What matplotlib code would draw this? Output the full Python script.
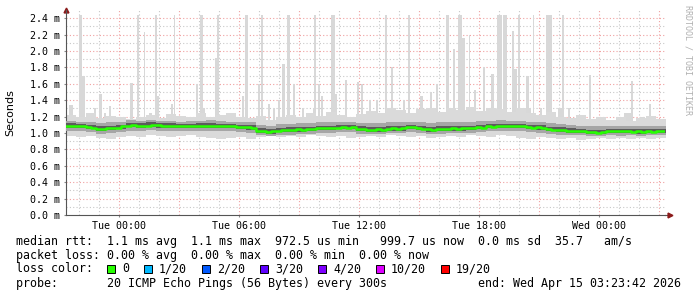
import numpy as np
import matplotlib
matplotlib.use("Agg")
import matplotlib.pyplot as plt
from matplotlib.patches import Rectangle

# ---- data (hours relative to Tue 00:00) ----
t_start = -2.65
t_end = 27.3

# median rtt (ms), one value per 15 min
median = [1.09, 1.09, 1.08, 1.08, 1.075, 1.06, 1.05, 1.05, 1.06, 1.06,
          1.06, 1.08, 1.09, 1.10, 1.09, 1.09, 1.09, 1.10, 1.10, 1.09,
          1.09, 1.09, 1.085, 1.08, 1.085, 1.08, 1.09, 1.09, 1.085, 1.09,
          1.085, 1.085, 1.08, 1.085, 1.075, 1.07, 1.07, 1.06, 1.03, 1.02,
          1.01, 1.02, 1.03, 1.04, 1.04, 1.035, 1.045, 1.04, 1.05, 1.045,
          1.06, 1.055, 1.06, 1.06, 1.065, 1.07, 1.065, 1.07, 1.05, 1.045,
          1.04, 1.035, 1.045, 1.04, 1.05, 1.055, 1.05, 1.055, 1.07, 1.07,
          1.065, 1.05, 1.045, 1.04, 1.045, 1.05, 1.05, 1.055, 1.05, 1.055,
          1.065, 1.06, 1.07, 1.065, 1.08, 1.075, 1.08, 1.08, 1.085, 1.08,
          1.09, 1.08, 1.07, 1.065, 1.07, 1.06, 1.045, 1.04, 1.035, 1.04,
          1.03, 1.02, 1.025, 1.02, 1.01, 1.01, 1.005, 1.015, 1.02, 1.02,
          1.025, 1.02, 1.02, 1.015, 1.02, 1.01, 1.02, 1.015, 1.02, 1.025]

# smoke envelope, one value per 30 min
s_max = [1.22, 1.20, 1.24, 1.18, 1.21, 1.19, 1.17, 1.20, 1.22, 1.18,
         1.23, 1.21, 1.19, 1.24, 1.20, 1.22, 1.25, 1.19, 1.18, 1.21,
         1.16, 1.19, 1.22, 1.20, 1.24, 1.21, 1.26, 1.22, 1.20, 1.23,
         1.27, 1.25, 1.30, 1.28, 1.24, 1.29, 1.31, 1.26, 1.30, 1.28,
         1.32, 1.27, 1.30, 1.29, 1.26, 1.31, 1.24, 1.22, 1.26, 1.20,
         1.18, 1.22, 1.17, 1.19, 1.16, 1.20, 1.15, 1.18, 1.21, 1.17]
s_p90 = [1.15, 1.14, 1.13, 1.12, 1.13, 1.14, 1.16, 1.15, 1.16, 1.15,
         1.15, 1.14, 1.15, 1.15, 1.16, 1.15, 1.14, 1.14, 1.13, 1.10,
         1.09, 1.11, 1.11, 1.12, 1.12, 1.13, 1.13, 1.14, 1.14, 1.12,
         1.12, 1.12, 1.13, 1.13, 1.14, 1.13, 1.12, 1.13, 1.13, 1.13,
         1.14, 1.15, 1.15, 1.16, 1.15, 1.15, 1.14, 1.13, 1.12, 1.11,
         1.10, 1.09, 1.08, 1.08, 1.09, 1.09, 1.09, 1.08, 1.09, 1.09]
s_p75 = [1.12, 1.11, 1.10, 1.08, 1.09, 1.10, 1.12, 1.12, 1.13, 1.12,
         1.12, 1.11, 1.115, 1.12, 1.12, 1.115, 1.11, 1.10, 1.095, 1.055,
         1.045, 1.065, 1.07, 1.07, 1.075, 1.09, 1.09, 1.10, 1.10, 1.08,
         1.07, 1.07, 1.08, 1.08, 1.10, 1.09, 1.07, 1.08, 1.08, 1.08,
         1.09, 1.10, 1.11, 1.11, 1.11, 1.115, 1.10, 1.095, 1.075, 1.07,
         1.055, 1.05, 1.04, 1.04, 1.05, 1.05, 1.05, 1.045, 1.05, 1.05]
s_p25 = [1.065, 1.055, 1.045, 1.025, 1.035, 1.045, 1.07, 1.065, 1.075, 1.065,
         1.065, 1.055, 1.06, 1.065, 1.065, 1.06, 1.055, 1.045, 1.04, 1.0,
         0.99, 1.01, 1.015, 1.015, 1.02, 1.035, 1.035, 1.045, 1.045, 1.025,
         1.015, 1.015, 1.025, 1.025, 1.045, 1.035, 1.015, 1.025, 1.025, 1.025,
         1.035, 1.045, 1.055, 1.055, 1.055, 1.06, 1.045, 1.04, 1.02, 1.015,
         1.0, 0.995, 0.985, 0.985, 0.995, 0.995, 0.995, 0.99, 0.995, 0.995]
s_p10 = [1.03, 1.02, 1.01, 0.99, 1.00, 1.01, 1.03, 1.03, 1.04, 1.03,
         1.03, 1.02, 1.03, 1.03, 1.03, 1.02, 1.02, 1.01, 1.00, 0.97,
         0.96, 0.98, 0.98, 0.99, 0.99, 1.00, 1.00, 1.01, 1.01, 0.99,
         0.99, 0.99, 1.00, 1.00, 1.01, 1.00, 0.99, 0.99, 1.00, 1.00,
         1.00, 1.01, 1.02, 1.02, 1.02, 1.02, 1.01, 1.00, 0.99, 0.98,
         0.97, 0.97, 0.96, 0.96, 0.97, 0.96, 0.97, 0.96, 0.97, 0.97]
s_min = [0.96, 0.95, 0.96, 0.94, 0.93, 0.95, 0.96, 0.95, 0.97, 0.96,
         0.95, 0.96, 0.97, 0.95, 0.94, 0.93, 0.94, 0.95, 0.93, 0.95,
         0.96, 0.95, 0.96, 0.95, 0.97, 0.96, 0.95, 0.96, 0.94, 0.95,
         0.96, 0.95, 0.97, 0.96, 0.95, 0.96, 0.94, 0.95, 0.96, 0.95,
         0.97, 0.96, 0.95, 0.97, 0.96, 0.94, 0.93, 0.95, 0.94, 0.93,
         0.94, 0.92, 0.93, 0.94, 0.93, 0.94, 0.93, 0.94, 0.93, 0.94]

# outlier spikes: time (h), top (ms), duration (h)
spike_t = [-2.40, -1.95, -1.80, -1.20, -0.95, -0.70, -0.45, 0.60, 0.95, 1.25,
           1.55, 1.85, 1.95, 2.65, 2.75, 3.90, 4.10, 4.25, 4.85, 4.95,
           6.20, 6.35, 7.00, 7.15, 7.50, 7.75, 8.00, 8.20, 8.45, 8.75,
           9.20, 9.75, 9.80, 10.00, 10.15, 10.70, 10.85, 11.35, 11.95, 12.15,
           12.55, 12.90, 13.35, 13.65, 14.25, 14.50, 15.10, 15.60, 15.90, 16.40,
           16.75, 17.05, 17.20, 17.50, 17.80, 18.25, 18.65, 19.00, 19.30, 19.70,
           19.80, 20.00, 20.40, 20.50, 20.70, 21.10, 21.50, 22.05, 22.20, 22.50,
           23.55, 25.45, 25.65, 26.15, 26.55]
spike_top = [1.34, 2.44, 1.69, 1.30, 1.47, 1.25, 1.33, 1.61, 2.44, 2.23,
             1.25, 2.44, 1.45, 1.35, 2.44, 1.60, 2.44, 1.30, 1.91, 2.44,
             1.45, 2.44, 1.60, 2.44, 1.35, 1.30, 1.40, 1.84, 2.44, 1.60,
             1.30, 1.30, 2.44, 1.60, 1.45, 2.44, 1.47, 1.65, 1.62, 1.60,
             1.40, 1.40, 2.44, 1.80, 1.40, 2.44, 1.45, 1.50, 1.60, 2.44,
             2.03, 2.44, 2.16, 2.19, 1.52, 1.80, 1.72, 2.44, 2.44, 2.25,
             1.78, 2.44, 1.69, 1.30, 2.44, 1.30, 2.44, 1.30, 2.44, 1.30,
             1.71, 1.25, 1.63, 1.20, 1.35]
spike_w = [0.20, 0.15, 0.20, 0.10, 0.15, 0.10, 0.10, 0.15, 0.10, 0.05,
           0.15, 0.10, 0.10, 0.10, 0.05, 0.10, 0.15, 0.10, 0.15, 0.10,
           0.10, 0.15, 0.10, 0.10, 0.10, 0.10, 0.10, 0.15, 0.15, 0.10,
           0.10, 0.10, 0.10, 0.10, 0.10, 0.20, 0.10, 0.10, 0.10, 0.10,
           0.10, 0.10, 0.10, 0.10, 0.10, 0.10, 0.15, 0.10, 0.10, 0.15,
           0.10, 0.20, 0.15, 0.05, 0.10, 0.10, 0.15, 0.25, 0.20, 0.10,
           0.15, 0.10, 0.15, 0.15, 0.05, 0.10, 0.30, 0.25, 0.10, 0.10,
           0.10, 0.40, 0.10, 0.25, 0.10]

loss_labels = ["0", "1/20", "2/20", "3/20", "4/20", "10/20", "19/20"]
loss_colors = ["#26ff00", "#00b8ff", "#0059ff", "#5e00ff", "#7e00ff", "#dd00ff", "#ff0000"]

W, H = 697, 297
mono = "DejaVu Sans Mono"

fig = plt.figure(figsize=(W / 100, H / 100), dpi=100, facecolor="white")
ax = fig.add_axes([66 / W, 1 - 215 / H, (665 - 66) / W, (215 - 10) / H])
ax.set_xlim(t_start, t_end)
ax.set_ylim(0, 2.5)

# grid
for h in np.arange(-2, 28, 1):
    if h % 3 != 0:
        ax.axvline(h, color="#c8c8c8", lw=0.8, ls=(0, (1, 2)), zorder=0)
for h in np.arange(0, 28, 3):
    ax.axvline(h, color="#f0a0a0", lw=0.8, ls=(0, (1, 2)), zorder=0)
for v in np.arange(0.1, 2.45, 0.2):
    ax.axhline(v, color="#c8c8c8", lw=0.8, ls=(0, (1, 2)), zorder=0)
for v in np.arange(0.2, 2.45, 0.2):
    ax.axhline(v, color="#f0a0a0", lw=0.8, ls=(0, (1, 2)), zorder=0)

# spikes
ax.bar(spike_t, np.array(spike_top) - 1.0, bottom=1.0, width=spike_w,
       color="#d8d8d8", align="center", zorder=1, lw=0)

# smoke
ts = t_start + 0.5 * np.arange(len(s_max) + 1)
def ext(a):
    return list(a) + [a[-1]]
ax.fill_between(ts, ext(s_min), ext(s_max), step="post", color="#dadada", lw=0, zorder=2)
ax.fill_between(ts, ext(s_p10), ext(s_p90), step="post", color="#a6a6a6", lw=0, zorder=3)
ax.fill_between(ts, ext(s_p25), ext(s_p75), step="post", color="#5c5c5c", lw=0, zorder=4)

# median
tm = t_start + 0.25 * np.arange(len(median) + 1)
ax.step(tm, ext(median), where="post", color="#26ff00", lw=1.8, zorder=5)

# axes
for s in ["top", "right"]:
    ax.spines[s].set_visible(False)
ax.spines["left"].set_color("#555555")
ax.spines["bottom"].set_color("#555555")
ax.spines["left"].set_bounds(0, 2.5)
ax.plot([1.0, 1.008], [0, 0], transform=ax.transAxes, color="#555555", lw=0.8, clip_on=False)
ax.plot([1.008], [0], transform=ax.transAxes, marker=">", ms=3.5, color="#8b1a1a", clip_on=False)
ax.plot([0], [1.0], transform=ax.transAxes, marker="^", ms=3.5, color="#8b1a1a", clip_on=False)

yt = np.arange(0, 2.45, 0.2)
ax.set_yticks(yt)
ax.set_yticklabels(["%.1f m" % v for v in yt], family=mono, fontsize=7.2)
ax.set_xticks([0, 6, 12, 18, 24])
ax.set_xticklabels(["Tue 00:00", "Tue 06:00", "Tue 12:00", "Tue 18:00", "Wed 00:00"],
                   family=mono, fontsize=7.2)
ax.tick_params(axis="both", length=1.5, color="#888888", pad=2.5)
ax.set_facecolor("white")

fig.text(10 / W, 1 - 113 / H, "Seconds", rotation=90, ha="center", va="center",
         fontsize=8, family="DejaVu Sans")
fig.text(688 / W, 1 - 5 / H, "RRDTOOL / TOBI OETIKER", rotation=270, ha="center", va="top",
         fontsize=6, family=mono, color="#b0b0b0")

fs = 8.4
def txt(x, y, s, **kw):
    fig.text(x / W, 1 - y / H, s, family=mono, fontsize=fs, va="center", **kw)

txt(16, 241, "median rtt:  1.1 ms avg  1.1 ms max  972.5 us min   999.7 us now  0.0 ms sd  35.7   am/s")
txt(16, 255, "packet loss: 0.00 % avg  0.00 % max  0.00 % min  0.00 % now")
txt(16, 269, "loss color:")
x = 107
for lab, col in zip(loss_labels, loss_colors):
    fig.patches.append(Rectangle((x / W, 1 - 273 / H), 8 / W, 8 / H, transform=fig.transFigure,
                                 facecolor=col, edgecolor="black", lw=0.7))
    txt(x + 15, 269, lab)
    x += 30 + 7 * len(lab)
txt(16, 283, "probe:       20 ICMP Echo Pings (56 Bytes) every 300s")
txt(681, 283, "end: Wed Apr 15 03:23:42 2026", ha="right")

fig.savefig("out.png", dpi=100, facecolor="white")
